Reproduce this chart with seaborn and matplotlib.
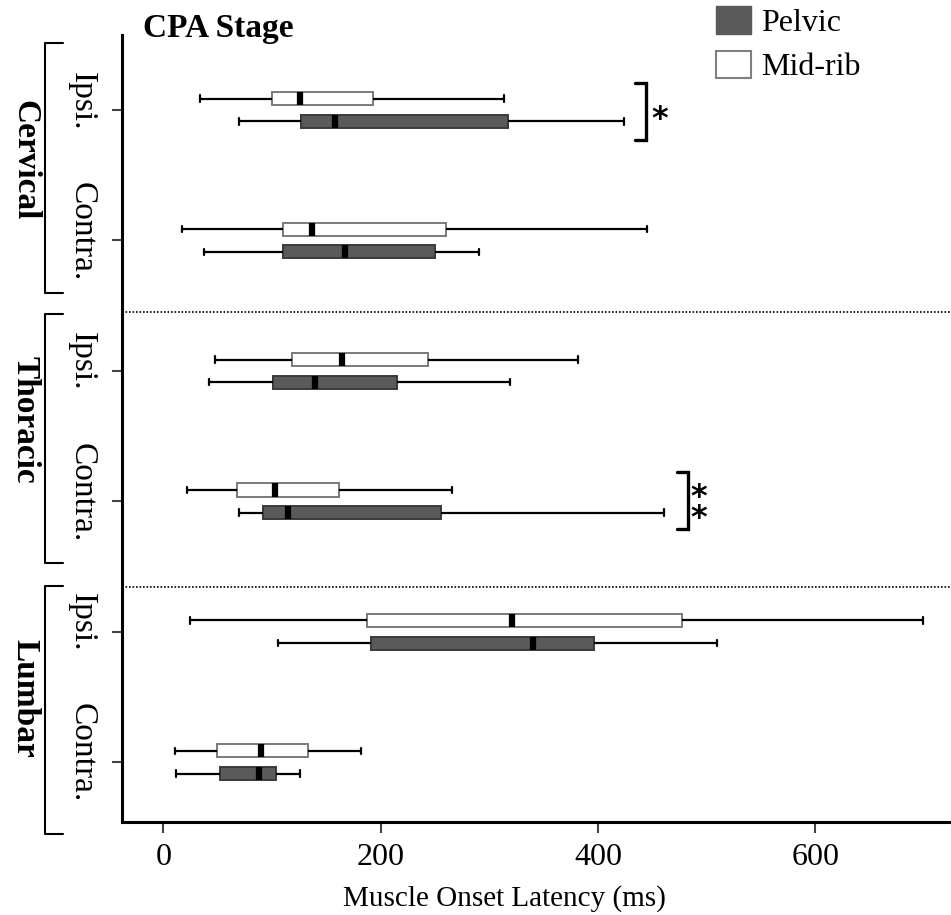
import numpy as np
import pandas as pd
import matplotlib
matplotlib.use("Agg")
import matplotlib.pyplot as plt
import matplotlib.transforms as mtransforms
from matplotlib.lines import Line2D
from matplotlib.patches import Patch
import seaborn as sns

# Spinal region / side combinations, top to bottom
regions = ["Cervical", "Thoracic", "Lumbar"]
sides = ["Ipsi.", "Contra."]
muscles = ["Mid-rib", "Pelvic"]

# Five-number summaries of onset latency (ms): min, Q1, median, Q3, max
midrib_min = [34, 17, 48, 22, 25, 11]
midrib_q1 = [100, 110, 118, 68, 187, 49]
midrib_med = [126, 137, 164, 103, 321, 90]
midrib_q3 = [193, 260, 244, 162, 477, 133]
midrib_max = [314, 445, 382, 266, 699, 182]

pelvic_min = [70, 37, 42, 70, 106, 12]
pelvic_q1 = [127, 110, 101, 92, 191, 52]
pelvic_med = [158, 167, 140, 115, 340, 88]
pelvic_q3 = [317, 250, 215, 256, 396, 104]
pelvic_max = [424, 291, 319, 461, 510, 126]

groups = [f"{r} {s}" for r in regions for s in sides]

rows = []
summaries = {
    "Mid-rib": (midrib_min, midrib_q1, midrib_med, midrib_q3, midrib_max),
    "Pelvic": (pelvic_min, pelvic_q1, pelvic_med, pelvic_q3, pelvic_max),
}
for muscle, cols in summaries.items():
    for gi, g in enumerate(groups):
        for c in cols:
            rows.append({"group": g, "muscle": muscle, "latency": c[gi]})
df = pd.DataFrame(rows)

sns.set_theme(style="white")
plt.rcParams["font.family"] = ["Liberation Serif", "DejaVu Serif"]
plt.rcParams["text.color"] = "black"
plt.rcParams["axes.labelcolor"] = "black"
plt.rcParams["xtick.color"] = "black"
plt.rcParams["ytick.color"] = "black"

fig = plt.figure(figsize=(9.51, 9.15), dpi=100)
ax = fig.add_axes([0.128, 0.102, 0.872, 0.8597])

dark = "#5a5a5a"
sns.boxplot(
    data=df, x="latency", y="group", hue="muscle",
    order=groups, hue_order=muscles,
    palette={"Mid-rib": "white", "Pelvic": dark},
    saturation=1, width=0.347, gap=0.42, whis=np.inf,
    linecolor="black", linewidth=1.6, orient="h",
    medianprops=dict(color="black", linewidth=4.5, solid_capstyle="butt"),
    legend=False, ax=ax,
)

# box outlines: grey on the open boxes, darker on the filled ones
for p in ax.patches:
    fc = p.get_facecolor()
    if fc[0] > 0.9:
        p.set_edgecolor("#7a7a7a")
    else:
        p.set_edgecolor("#3a3a3a")
    p.set_linewidth(1.4)

ax.set_xlim(-38.3, 725)
ax.set_ylim(5.456, -0.575)
ax.set_autoscale_on(False)

# region separators
for yv in (1.551, 3.657):
    ax.axhline(yv, color="black", lw=1.2, ls=(0, (1, 1.1)))

for side in ("top", "right"):
    ax.spines[side].set_visible(False)
for side in ("left", "bottom"):
    ax.spines[side].set_color("black")
    ax.spines[side].set_linewidth(2.2)

ax.set_xticks([0, 200, 400, 600])
ax.tick_params(axis="x", length=8, width=1.5, color="#444444",
               labelsize=23, pad=7, bottom=True, labelcolor="black")
ax.tick_params(axis="y", length=7, width=1.5, color="#444444",
               left=True, labelleft=False)
ax.set_ylabel("")
ax.set_xlabel("Muscle Onset Latency (ms)", fontsize=21, color="black")
ax.xaxis.set_label_coords(0.462, -0.081)

# left-hand region brackets and labels
blend = mtransforms.blended_transform_factory(fig.transFigure, ax.transData)
x0, x1 = 45 / 951, 63 / 951
spans = [(-0.514, 1.403), (1.564, 3.470), (3.649, 5.55)]
centers = [0.383, 2.376, 4.51]
for (yt, yb), yc, name in zip(spans, centers, regions):
    fig.add_artist(Line2D([x1, x0, x0, x1], [yt, yt, yb, yb], transform=blend,
                          color="black", lw=1.5, solid_joinstyle="round"))
    fig.text(25 / 951, yc, name, transform=blend, rotation=-90,
             ha="center", va="center", fontsize=24, fontweight="bold")
for gi, g in enumerate(groups):
    side = g.split(" ")[1]
    fig.text(81.7 / 951, gi - 0.07, side, transform=blend, rotation=-90,
             ha="center", va="center", fontsize=24)

# significance brackets
def sig_bracket(xa, xb, ya, yb, stars, xs, ys):
    ax.plot([xa, xb, xb, xa], [ya, ya, yb, yb], color="black", lw=2.4,
            clip_on=False, solid_joinstyle="miter")
    ax.text(xs, ys, stars, fontsize=23, fontweight="bold",
            family="DejaVu Sans", ha="left", va="center", linespacing=0.6)

sig_bracket(434.3, 444.2, -0.207, 0.23, "*", 449, 0.07)
sig_bracket(472.7, 482.5, 2.775, 3.212, "*\n*", 485, 3.05)

fig.text(143 / 951, 1 - 37 / 915, "CPA Stage", fontsize=24,
         fontweight="bold", va="baseline", ha="left")

handles = [Patch(facecolor=dark, edgecolor=dark),
           Patch(facecolor="white", edgecolor="#808080", linewidth=1.5)]
fig.legend(handles, ["Pelvic", "Mid-rib"], loc="upper left",
           bbox_to_anchor=(716 / 951, 1 - 6 / 915), frameon=False,
           fontsize=23, handlelength=1.1, handleheight=0.95,
           handletextpad=0.3, labelspacing=0.4, borderpad=0.0,
           borderaxespad=0.0)

fig.savefig("out.png", dpi=100)
